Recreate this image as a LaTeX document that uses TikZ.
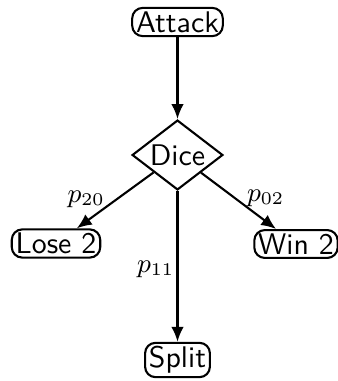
\documentclass[tikz,border=0pt]{standalone}
\usetikzlibrary{shapes.geometric,arrows.meta}
\begin{document}
\begin{tikzpicture}[x=0.335pt,y=-0.335pt,
  statebox/.style={draw,rounded corners=3.5pt,line width=0.7pt,inner xsep=1.3pt,inner ysep=1.2pt,font=\sffamily},
  choice/.style={draw,diamond,shape aspect=1.3,line width=0.7pt,inner sep=0.6pt,minimum width=30pt,font=\sffamily},
  conn/.style={line width=0.7pt,-{Latex[length=5pt,width=4.2pt]}},
  lab/.style={inner sep=1pt,font=\fontsize{9}{10}\selectfont}]
\useasboundingbox (0,0) rectangle (337,381);
\node[statebox] (attack) at (177.5,22) {Attack};
\node[choice] (dice) at (177.5,155) {Dice};
\node[statebox] (lose) at (56,243.5) {Lose 2};
\node[statebox] (win) at (296,244) {Win 2};
\node[statebox] (split) at (177.5,360) {Split};
\draw[conn] (attack) -- (dice);
\draw[conn] (dice) -- node[lab,pos=0.7,above left,xshift=3pt] {$p_{20}$} (lose);
\draw[conn] (dice) -- node[lab,pos=0.68,above right,xshift=-3pt] {$p_{02}$} (win);
\draw[conn] (dice) -- node[lab,pos=0.52,left,inner sep=1pt,xshift=0.3pt] {$p_{11}$} (split);
\end{tikzpicture}
\end{document}
